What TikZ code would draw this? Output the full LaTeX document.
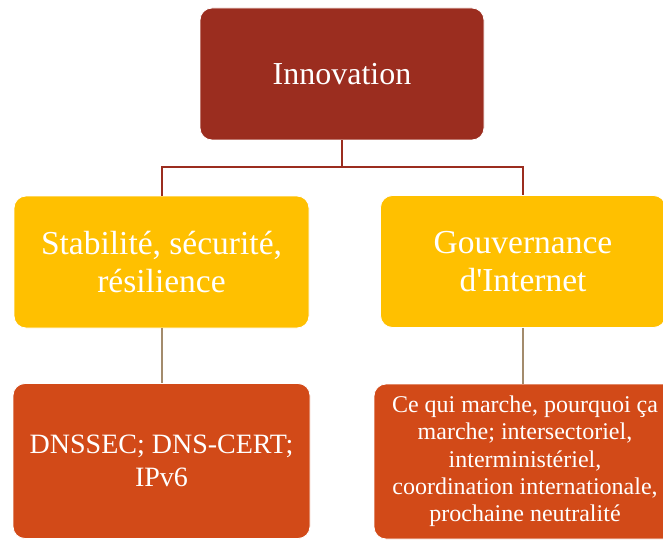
\documentclass[tikz,border=0pt]{standalone}
\usepackage{fontspec}
\setmainfont{Liberation Serif}
\definecolor{innred}{HTML}{9B2D1F}
\definecolor{gold}{HTML}{FFC000}
\definecolor{rust}{HTML}{D24A18}
\definecolor{tan}{HTML}{A38B6C}
\tikzset{
  boxbase/.style={rectangle, rounded corners=12pt, draw=white, line width=0.8pt,
    text=white, align=center, inner sep=3pt},
  topbox/.style={boxbase, fill=innred, minimum width=284pt, minimum height=132pt,
    font=\fontsize{32}{38}\selectfont},
  midbox/.style={boxbase, fill=gold, minimum height=132pt,
    font=\fontsize{33.5}{38}\selectfont},
  lowbox/.style={boxbase, fill=rust, minimum height=155pt},
  redline/.style={draw=innred, line width=2pt},
  tanline/.style={draw=tan, line width=2pt}
}
\begin{document}
\begin{tikzpicture}[x=1pt,y=-1pt]
\useasboundingbox (0,0) rectangle (663,540);
\clip (0,0) rectangle (663,540);
\node[topbox] (inn) at (342,74) {Innovation};
\node[midbox, minimum width=295pt] (stab) at (161.5,262) {Stabilité, sécurité,\\résilience};
\node[midbox, minimum width=285pt] (gouv) at (523,261.5) {Gouvernance\\d\textquotesingle Internet};
\node[lowbox, minimum width=297pt, font=\fontsize{28}{33}\selectfont] (dns) at (161.5,461)
  {DNSSEC; DNS-CERT;\\IPv6};
\node[lowbox, minimum width=302pt, font=\fontsize{24}{27.3}\selectfont] (ce) at (525,461.5)
  {Ce qui marche, pourquoi ça\\marche; intersectoriel,\\interministériel,\\coordination internationale,\\prochaine neutralité};
\coordinate (mid) at (342,167);
\draw[redline] (inn.south) -- (mid) -| (stab.north);
\draw[redline] (mid) -| (gouv.north);
\draw[tanline] (stab.south) -- (dns.north);
\draw[tanline] (gouv.south) -- (gouv.south |- ce.north);
\end{tikzpicture}
\end{document}
